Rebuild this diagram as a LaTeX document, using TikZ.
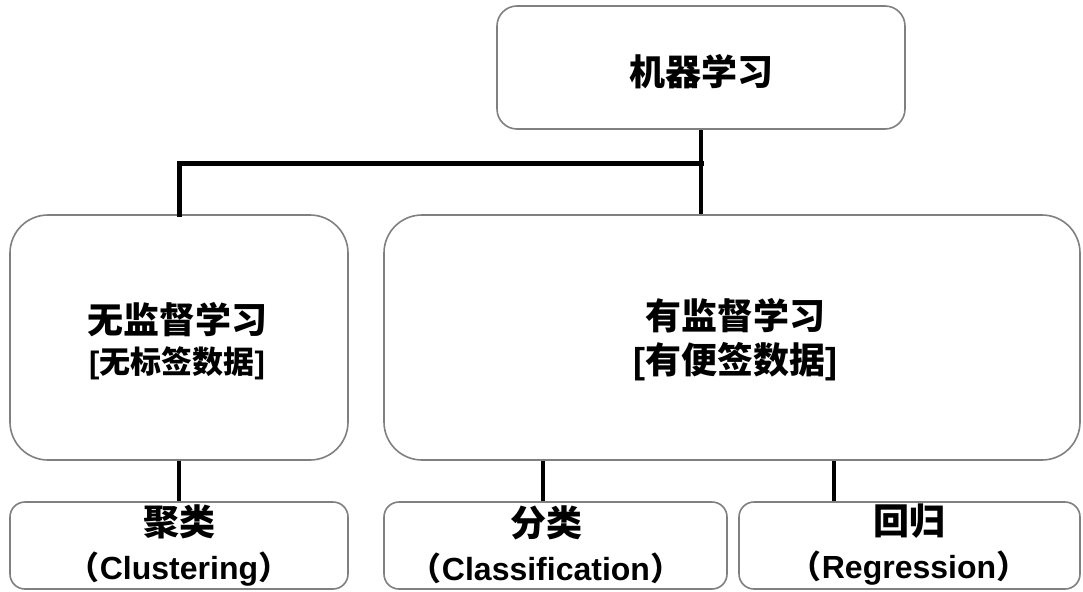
\documentclass[tikz,border=0pt]{standalone}
\usepackage{fontspec}
\usetikzlibrary{calc}
\setmainfont{Liberation Sans}
\newfontfamily\cjk{Noto Sans CJK SC}
\newcommand\zh[1]{{\cjk\bfseries #1}}
\newcommand\la[1]{{\bfseries #1}}
\newcommand\subsz{\fontsize{32}{41}\selectfont}
\begin{document}
\begin{tikzpicture}[x=1pt,y=-1pt,
  box/.style={draw=boxgray, line width=1.6pt, fill=white, inner sep=0pt},
  txt/.style={align=center, inner sep=0pt, text=black, font=\fontsize{36}{41}\selectfont},
  conn/.style={draw=black, line width=4pt}]
\definecolor{boxgray}{HTML}{808080}
\useasboundingbox (0,0) rectangle (1083,591);
\fill[white] (0,0) rectangle (1083,591);
% boxes
\node[box, rounded corners=20pt, minimum width=408pt, minimum height=123pt] (ml) at (701,67.5) {};
\node[box, rounded corners=38pt, minimum width=338pt, minimum height=245pt] (unsup) at (179,337.5) {};
\node[box, rounded corners=38pt, minimum width=696pt, minimum height=245pt] (sup) at (732,337.5) {};
\node[box, rounded corners=15pt, minimum width=338pt, minimum height=87pt] (clu) at (179,545.5) {};
\node[box, rounded corners=15pt, minimum width=343pt, minimum height=87pt] (cla) at (555.5,545.5) {};
\node[box, rounded corners=15pt, minimum width=341pt, minimum height=87pt] (reg) at (909.5,545.5) {};
% texts
\node[txt] (mlT) at (701,72) {\zh{机器学习}};
\node[txt] (unsupT) at (177,341) {\zh{无监督学习}\\[-1pt]{\fontsize{31}{41}\selectfont\la{[}\zh{无标签数据}\la{]}}};
\node[txt] (supT) at (735,340) {\zh{有监督学习}\\[3pt]\la{[}\zh{有便签数据}\la{]}};
\node[txt] (cluT) at (179,545) {\zh{聚类}\\[3pt]{\subsz\zh{（}\la{Clustering}\zh{）}}};
\node[txt] (claT) at (546,545) {\zh{分类}\\[3pt]{\subsz\zh{（}\la{Classification}\zh{）}}};
\node[txt] (regT) at (909,545) {\zh{回归}\\[3pt]{\subsz\zh{（}\la{Regression}\zh{）}}};
% connectors
\coordinate (bus) at ($(ml.south)+(0,34)$);
\draw[conn] (ml.south) -- (ml.south |- sup.north);
\draw[conn, line width=5pt, line cap=rect] (ml.south |- bus) -| (unsup.north);
\draw[conn] (unsup.south) -- (clu.north);
\draw[conn] ([xshift=-12.5pt]cla.north) -- ([xshift=-12.5pt]cla.north |- sup.south);
\draw[conn] ([xshift=-75.5pt]reg.north) -- ([xshift=-75.5pt]reg.north |- sup.south);
\end{tikzpicture}
\end{document}
